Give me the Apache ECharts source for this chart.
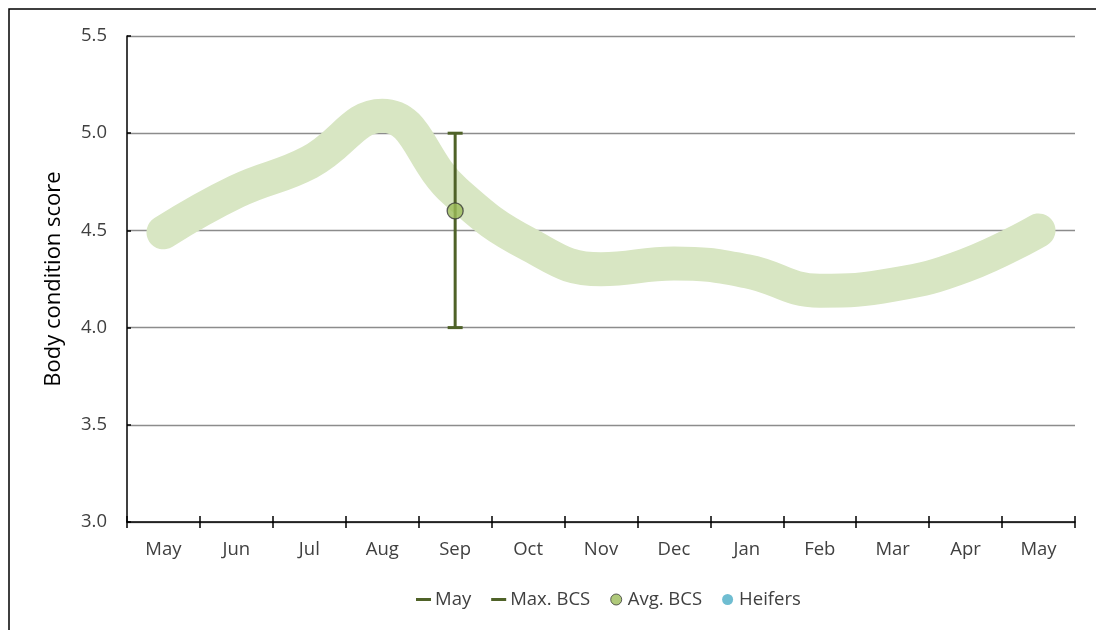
<!DOCTYPE html>
<html><head><meta charset="utf-8">
<script src="https://cdn.jsdelivr.net/npm/echarts@6/dist/echarts.min.js"></script>
<style>html,body{margin:0;padding:0;background:#fff}#c{width:1096px;height:630px}</style>
</head><body><div id="c"></div>
<script>
const months = ['May','Jun','Jul','Aug','Sep','Oct','Nov','Dec','Jan','Feb','Mar','Apr','May'];
const bcsCurve = [4.49, 4.70, 4.85, 5.09, 4.70, 4.43, 4.30, 4.33, 4.29, 4.19, 4.22, 4.32, 4.5];
const errIndex = [4];
const errLow = [4.0];
const errHigh = [5.0];
const avgBCS = [4.6];
const yTicks = ['3.0','3.5','4.0','4.5','5.0','5.5'];

const font = '"Open Sans", "Noto Sans", sans-serif';
const chart = echarts.init(document.getElementById('c'));
const xCats = months.map((m,i)=>i);
chart.setOption({
  animation:false,
  backgroundColor:'#fff',
  graphic:[{type:'rect',shape:{x:9,y:9,width:1200,height:700},style:{fill:'none',stroke:'#000',lineWidth:1.5},silent:true,z:-1}],
  grid:{left:127,right:21,top:36,bottom:108},
  legend:{
    top:585,left:411,itemGap:20,itemWidth:15,itemHeight:11,
    textStyle:{fontFamily:font,fontSize:18.5,color:'#404040',padding:[0,0,0,-1]},
    data:[
      {name:'May',icon:'path://M0,4 L15,4 L15,7 L0,7 Z',itemStyle:{color:'#4f6228'}},
      {name:'Max. BCS',icon:'path://M0,4 L15,4 L15,7 L0,7 Z',itemStyle:{color:'#4f6228'}},
      {name:'Avg. BCS',icon:'circle',itemStyle:{color:'#9bbb59',borderColor:'#3a3a3a',borderWidth:1}},
      {name:'Heifers',icon:'circle',itemStyle:{color:'#4bacc6'}}
    ]
  },
  xAxis:[{
    type:'category',data:xCats,boundaryGap:true,
    axisLine:{lineStyle:{color:'#000',width:1.5}},
    axisTick:{show:true,inside:false,length:6,lineStyle:{color:'#000',width:1.5}},
    axisLabel:{fontFamily:font,fontSize:18.5,color:'#404040',margin:18,formatter:(v,i)=>months[i]}
  },{
    type:'category',data:xCats,boundaryGap:true,position:'bottom',
    axisLine:{show:false},
    axisTick:{show:true,inside:true,length:6,lineStyle:{color:'#000',width:1.5}},
    axisLabel:{show:false}
  }],
  yAxis:{
    type:'value',min:3,max:5.5,interval:0.5,
    name:'Body condition score',nameLocation:'middle',nameGap:62,
    nameTextStyle:{fontFamily:font,fontSize:22,color:'#000'},
    axisLine:{show:true,lineStyle:{color:'#000',width:1.5}},
    axisTick:{show:true,inside:true,length:4,lineStyle:{color:'#000',width:1.5}},
    splitLine:{lineStyle:{color:'#8c8c8c',width:1.3}},
    axisLabel:{fontFamily:font,fontSize:18.5,color:'#404040',margin:20,formatter:(v)=>yTicks[Math.round((v-3)/0.5)]}
  },
  series:[
    {name:'Curve',type:'line',data:bcsCurve,smooth:0.45,symbol:'none',
     lineStyle:{color:'#d8e6c3',width:34,cap:'round',join:'round'},z:1},
    {name:'May',type:'custom',z:5,
     data:errIndex.map((c,i)=>[c,errLow[i],errHigh[i]]),
     renderItem:function(params,api){
       const x=api.value(0);
       const lo=api.coord([x,api.value(1)]);
       const hi=api.coord([x,api.value(2)]);
       const st={stroke:'#4f6228',lineWidth:3};
       return {type:'group',children:[
         {type:'line',shape:{x1:lo[0],y1:lo[1],x2:hi[0],y2:hi[1]},style:st},
         {type:'line',shape:{x1:lo[0]-7.5,y1:lo[1],x2:lo[0]+7.5,y2:lo[1]},style:st},
         {type:'line',shape:{x1:hi[0]-7.5,y1:hi[1],x2:hi[0]+7.5,y2:hi[1]},style:st}
       ]};
     }},
    {name:'Max. BCS',type:'line',data:[],itemStyle:{color:'#4f6228'}},
    {name:'Avg. BCS',type:'scatter',z:6,data:errIndex.map((c,i)=>[c,avgBCS[i]]),
     symbol:'circle',symbolSize:16,itemStyle:{color:'#9bbb59',borderColor:'#3a3a3a',borderWidth:1.3}},
    {name:'Heifers',type:'scatter',data:[],itemStyle:{color:'#4bacc6'}}
  ]
});
</script></body></html>
